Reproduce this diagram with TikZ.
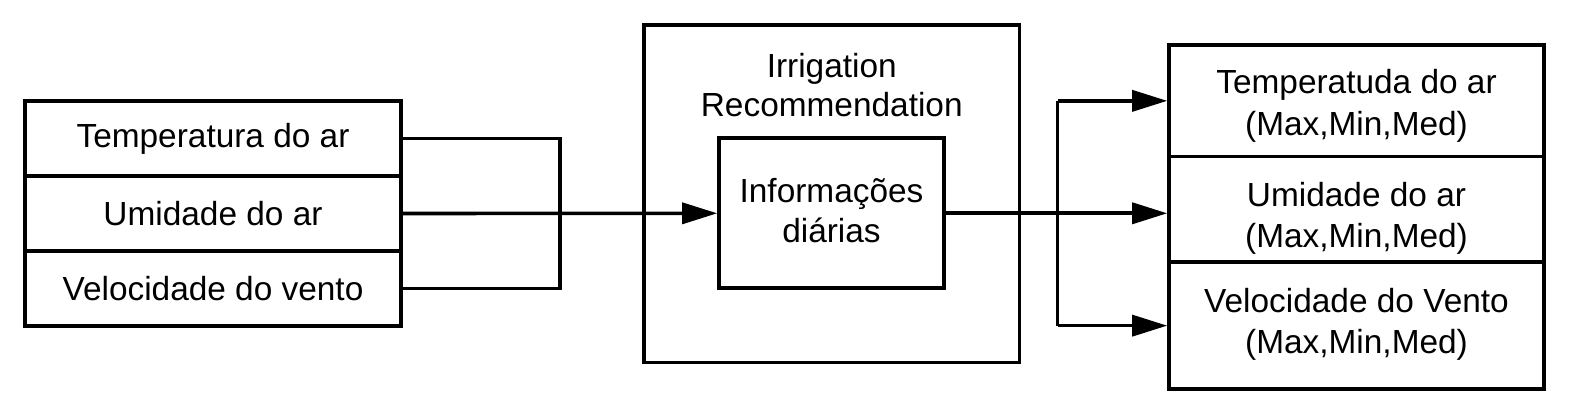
\documentclass[tikz,border=0pt]{standalone}
\usepackage{fontspec}
\setmainfont{Liberation Sans}
\usetikzlibrary{arrows.meta,calc}
\begin{document}
\begin{tikzpicture}[x=0.5pt,y=-0.5pt,
  lw/.style={line width=1.8pt},
  rowbox/.style={draw,lw,rectangle,inner sep=0pt,align=center,font=\fontsize{16.7pt}{19.8pt}\selectfont},
  txt/.style={inner sep=0pt,align=center,font=\fontsize{16.7pt}{19.8pt}\selectfont},
  rtxt/.style={txt,font=\fontsize{16.7pt}{20.7pt}\selectfont},
  conn/.style={lw},
  arr/.style={lw,-{Triangle[length=17.5pt,width=10.5pt]}}]
\useasboundingbox (0,0) rectangle (1590,416);
% left stack
\node[rowbox,minimum width=188pt,minimum height=37.5pt] (l1) at (213,138.5) {Temperatura do ar};
\node[rowbox,minimum width=188pt,minimum height=37.5pt] (l2) at (213,213.5) {Umidade do ar};
\node[rowbox,minimum width=188pt,minimum height=37.5pt] (l3) at (213,288.5) {Velocidade do vento};
% center
\node[rowbox,minimum width=187.75pt,minimum height=168.75pt] (outer) at (831.75,193.75) {};
\node[txt] (title) at (831.75,85) {Irrigation\\Recommendation};
\node[rowbox,minimum width=112.5pt,minimum height=75pt] (inner) at (831.5,213.3) {};
\node[txt] (innert) at (831.5,210.3) {Informações\\diárias};
% right stack
\node[rowbox,minimum width=187.5pt,minimum height=55.85pt] (r1) at (1356.5,100.85) {};
\node[rowbox,minimum width=187.5pt,minimum height=52.8pt] (r2) at (1356.5,209.5) {};
\node[rowbox,minimum width=187.5pt,minimum height=63.35pt] (r3) at (1356.5,325.65) {};
\node[rtxt] (r1t) at (1356.5,106) {Temperatuda do ar\\(Max,Min,Med)};
\node[rtxt] (r2t) at (1356.5,218.6) {Umidade do ar\\(Max,Min,Med)};
\node[rtxt] (r3t) at (1356.5,324.5) {Velocidade do Vento\\(Max,Min,Med)};
% connectors
\coordinate (jx) at (560,0);
\coordinate (kx) at (1057.5,0);
\draw[conn] (l1.east) -- (l1.east -| jx) -- (l3.east -| jx) -- (l3.east);
\draw[arr] (l2.east) -- (inner.west);
\draw[arr] (inner.east) -- (inner.east -| r2.west);
\draw[conn] (r1.west -| kx) -- (r3.west -| kx);
\draw[arr] (r1.west -| kx) -- (r1.west);
\draw[arr] (r3.west -| kx) -- (r3.west);
\end{tikzpicture}
\end{document}
